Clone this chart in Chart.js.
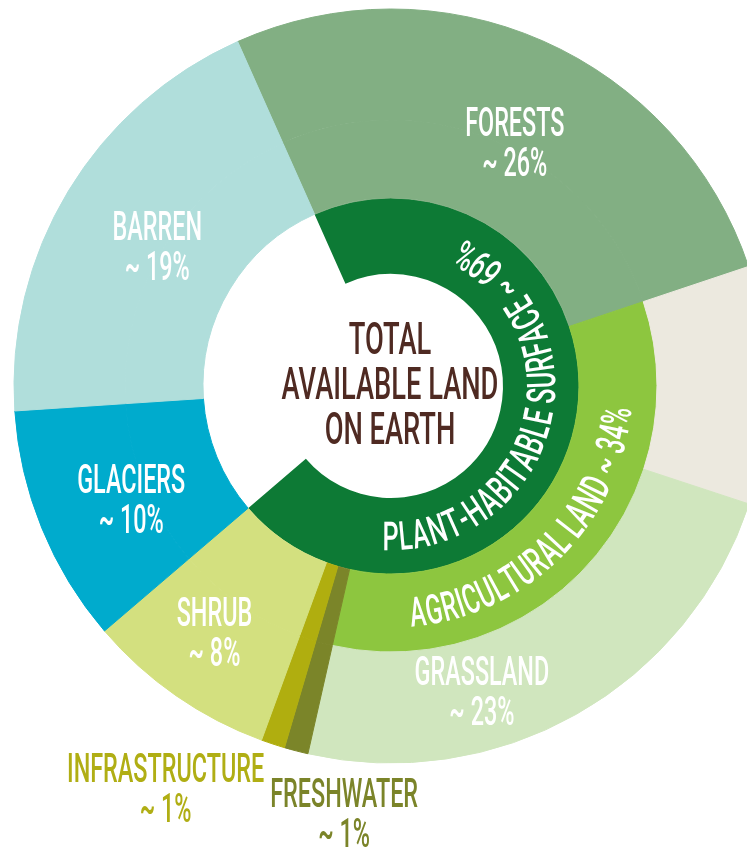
<!DOCTYPE html>
<html><head><meta charset="utf-8">
<script src="https://cdn.jsdelivr.net/npm/chart.js@4.4.0/dist/chart.umd.min.js"></script>
<style>
html,body{margin:0;padding:0;background:#fff;overflow:hidden;width:747px;height:850px}
#wrap{position:absolute;left:0;top:0;width:782px;height:850px}
</style></head><body>
<div id="wrap"><canvas id="c" width="782" height="850"></canvas></div>
<script>
// ---- data ----
const landCategories = ['Forests','Cropland','Grassland','Freshwater','Infrastructure','Shrub','Glaciers','Barren'];
const landShares = [26, 10, 23, 1, 1, 8, 10, 19];
const landLabels = ['FORESTS', '', 'GRASSLAND', 'FRESHWATER', 'INFRASTRUCTURE', 'SHRUB', 'GLACIERS', 'BARREN'];
const landValueLabels = ['~ 26%', '', '~ 23%', '~ 1%', '~ 1%', '~ 8%', '~ 10%', '~ 19%'];
const agriculturalParts = ['Cropland', 'Grassland'];
const agriculturalLabel = 'AGRICULTURAL LAND ~ 34%';
const habitableShare = 69;
const habitableLabel = 'PLANT-HABITABLE SURFACE ~ 69%';
const centerTitle = ['TOTAL', 'AVAILABLE LAND', 'ON EARTH'];

// ---- styles ----
const landColors = ['#82af83', '#ece9df', '#d0e6be', '#7b8529', '#b0ae0f', '#d3e07f', '#00abcd', '#b0dedb'];
const agriColor = '#8dc63f';
const habitableColor = '#0d7a35';
const FONT = 'Roboto, "Liberation Sans", sans-serif';
const WEIGHT = '500';
const SQUEEZE = 0.57;

// middle ring: same land categories, with cropland + grassland grouped as agricultural land
const midCats = [], midVals = [], midColors = [];
landCategories.forEach((c, i) => {
  if (agriculturalParts.includes(c)) {
    if (c === agriculturalParts[0]) { midCats.push('Agricultural land'); midVals.push(0); midColors.push(agriColor); }
    midVals[midVals.length - 1] += landShares[i];
  } else { midCats.push(c); midVals.push(landShares[i]); midColors.push(landColors[i]); }
});
const totalLand = landShares.reduce((a, b) => a + b, 0);

const labelStyle = [
  {r: 274, shift: 3.1, color: '#ffffff'},
  null,
  {r: 318, shift: 12.9, color: '#ffffff'},
  {r: 429, shift: -8.3, color: '#7b8429'},
  {r: 460, shift: 11.1, color: '#b0ae14'},
  {r: 302, shift: 1.0, color: '#ffffff'},
  {r: 283, shift: -1.2, color: '#ffffff'},
  {r: 273, shift: 0, color: '#ffffff'}
];

function drawLine(ctx, text, x, y, size, color, sx) {
  ctx.save();
  ctx.font = WEIGHT + ' ' + size + 'px ' + FONT;
  ctx.fillStyle = color;
  ctx.textAlign = 'center';
  ctx.textBaseline = 'alphabetic';
  ctx.translate(x, y);
  ctx.scale(sx, 1);
  ctx.fillText(text, 0, size * 0.711 / 2);
  ctx.restore();
}

function drawCurved(ctx, text, cx, cy, r, midDeg, spanDeg, size, color) {
  ctx.save();
  ctx.font = WEIGHT + ' ' + size + 'px ' + FONT;
  ctx.fillStyle = color;
  ctx.textAlign = 'center';
  ctx.textBaseline = 'alphabetic';
  const chars = Array.from(text);
  const widths = chars.map(ch => ctx.measureText(ch).width);
  const W = widths.reduce((a, b) => a + b, 0);
  const L = spanDeg * Math.PI / 180 * r;
  const s = L / W;
  let theta = (midDeg + spanDeg / 2) * Math.PI / 180; // clockwise from top
  chars.forEach((ch, i) => {
    const w = widths[i] * s;
    const tc = theta - (w / 2) / r;
    ctx.save();
    ctx.translate(cx + r * Math.sin(tc), cy - r * Math.cos(tc));
    ctx.rotate(tc - Math.PI);
    ctx.scale(s, 1);
    ctx.fillText(ch, 0, size * 0.711 / 2);
    ctx.restore();
    theta -= w / r;
  });
  ctx.restore();
}

const labelPlugin = {
  id: 'labels',
  afterDraw(chart) {
    const ctx = chart.ctx;
    const outer = chart.getDatasetMeta(0).data;
    const cx = outer[0].x, cy = outer[0].y;
    outer.forEach((arc, i) => {
      const st = labelStyle[i];
      if (!st || !landLabels[i]) return;
      const a = (arc.startAngle + arc.endAngle) / 2 + st.shift * Math.PI / 180;
      const x = cx + st.r * Math.cos(a), y = cy + st.r * Math.sin(a);
      drawLine(ctx, landLabels[i], x, y - 20, 41, st.color, SQUEEZE);
      drawLine(ctx, landValueLabels[i], x, y + 20, 41, st.color, SQUEEZE);
    });
    // center title
    const lh = 45;
    centerTitle.forEach((t, i) => {
      drawLine(ctx, t, cx - 1, cy - 48 + i * lh, 44, '#4f2a22', 0.62);
    });
    // curved labels
    const mid = chart.getDatasetMeta(1).data;
    const agriIdx = midCats.indexOf('Agricultural land');
    const ag = mid[agriIdx];
    const agMid = ((ag.startAngle + ag.endAngle) / 2) * 180 / Math.PI + 90;
    drawCurved(ctx, agriculturalLabel, cx, cy, (ag.innerRadius + ag.outerRadius) / 2, agMid + 3.2, 80, 41, '#ffffff');
    const hb = chart.getDatasetMeta(2).data[0];
    const hbMid = ((hb.startAngle + hb.endAngle) / 2) * 180 / Math.PI + 90;
    drawCurved(ctx, habitableLabel, cx, cy, (hb.innerRadius + hb.outerRadius) / 2, hbMid + 2, 157, 40, '#ffffff');
  }
};

new Chart(document.getElementById('c'), {
  type: 'doughnut',
  data: {
    labels: landCategories,
    datasets: [
      {data: landShares, backgroundColor: landColors, borderColor: landColors, borderWidth: 1, weight: 111},
      {data: midVals, backgroundColor: midColors, borderColor: midColors, borderWidth: 1, weight: 78},
      {data: [habitableShare, totalLand - habitableShare], backgroundColor: [habitableColor, 'rgba(0,0,0,0)'], borderWidth: 0, weight: 76}
    ]
  },
  options: {
    responsive: false,
    devicePixelRatio: 1,
    animation: false,
    events: [],
    rotation: -24,
    radius: 377,
    cutout: '29.71%',
    layout: {padding: {bottom: 78}},
    plugins: {legend: {display: false}, tooltip: {enabled: false}}
  },
  plugins: [labelPlugin]
});
</script>
</body></html>
